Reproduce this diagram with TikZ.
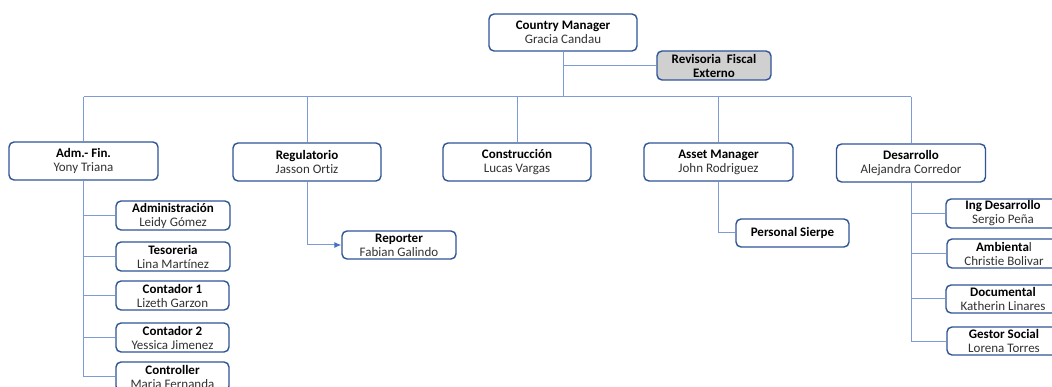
\documentclass[tikz,border=0pt]{standalone}
\usepackage{fontspec}
\setmainfont{Carlito}[Ligatures=NoCommon]
\usetikzlibrary{arrows.meta}
\definecolor{boxblue}{RGB}{47,85,151}
\definecolor{linkblue}{RGB}{125,155,212}
\definecolor{arrowblue}{RGB}{68,114,196}
\definecolor{revgray}{RGB}{208,208,208}
\definecolor{txtgray}{RGB}{50,50,50}
\tikzset{
  orgbox/.style={draw=boxblue, line width=1.4pt, rounded corners=5pt, fill=white,
    align=center, inner sep=0pt, font=\fontsize{13}{14}\selectfont, text=txtgray},
  bigbox/.style={orgbox, minimum width=148pt, minimum height=37pt},
  smallbox/.style={orgbox, minimum width=114pt, minimum height=29pt},
  link/.style={draw=linkblue, line width=1pt},
}
\newcommand{\hd}[1]{\textbf{\color{black}#1}}
\begin{document}
\begin{tikzpicture}[x=1pt,y=-1pt]
\useasboundingbox (0,0) rectangle (1052,387);
\clip (0,0) rectangle (1052,387);
\fill[white] (0,0) rectangle (1052,387);
% top
\node[bigbox] (cm) at (563,32.5) {\hd{Country Manager}\\Gracia Candau};
\node[smallbox, fill=revgray] (rev) at (714,65.5) {\hd{Revisoria\ \ Fiscal}\\\hd{Externo}};
\coordinate (bus) at (563,97);
% level 2
\node[bigbox, minimum width=149pt, minimum height=38pt] (adm) at (83.5,161) {\hd{Adm.- Fin.}\\Yony Triana};
\node[bigbox, minimum height=38pt] (reg) at (307,162) {\hd{Regulatorio}\\Jasson Ortiz};
\node[bigbox, minimum height=38pt] (con) at (517,162) {\hd{Construcción}\\Lucas Vargas};
\node[bigbox, minimum width=149pt, minimum height=38pt] (asset) at (718.5,162) {\hd{Asset Manager}\\John Rodriguez};
\node[bigbox, minimum width=149pt, minimum height=38pt] (des) at (911,163) {\hd{Desarrollo}\\Alejandra Corredor};
% Adm children
\node[smallbox] (admin) at (173,215.5) {\hd{Administración}\\Leidy Gómez};
\node[smallbox] (teso) at (173,256.5) {\hd{Tesoreria}\\Lina Martínez};
\node[smallbox, minimum width=113pt] (c1) at (172.5,295.5) {\hd{Contador 1}\\Lizeth Garzon};
\node[smallbox, minimum width=113pt] (c2) at (172.5,337.5) {\hd{Contador 2}\\Yessica Jimenez};
\node[smallbox, minimum width=113pt] (ctrl) at (172.5,376.5) {\hd{Controller}\\Maria Fernanda};
% Regulatorio / Asset children
\node[smallbox, minimum height=28pt] (rep) at (399,245) {\hd{Reporter}\\Fabian Galindo};
\node[smallbox, minimum width=113pt, minimum height=28pt] (ps) at (792.5,233) {\hd{Personal Sierpe}};
% Desarrollo children
\node[smallbox] (ing) at (1003,213.5) {\hd{Ing Desarrollo}\\Sergio Peña};
\node[smallbox] (amb) at (1004,253.5) {\hd{Ambienta}l\\Christie Bolivar};
\node[smallbox, minimum height=28pt] (doc) at (1003,299) {\hd{Documental}\\Katherin Linares};
\node[smallbox, minimum height=28pt] (gest) at (1004,341) {\hd{Gestor Social}\\Lorena Torres};
% connectors
\draw[link] (cm.south) -- (bus);
\draw[link] (cm.south |- rev.west) -- (rev.west);
\draw[link] (adm.north |- bus) -- (des.north |- bus);
\foreach \n in {adm,reg,con,asset,des}
  \draw[link] (\n.north |- bus) -- (\n.north);
\draw[link] (adm.south) |- (ctrl.west);
\foreach \n in {admin,teso,c1,c2}
  \draw[link] (adm.south |- \n.west) -- (\n.west);
\draw[link, -{Latex[length=7pt,width=6pt,color=arrowblue]}] (reg.south) |- (rep.west);
\draw[link] (asset.south) |- (ps.west);
\draw[link] (des.south) |- (gest.west);
\foreach \n in {ing,amb,doc}
  \draw[link] (des.south |- \n.west) -- (\n.west);
\end{tikzpicture}
\end{document}
